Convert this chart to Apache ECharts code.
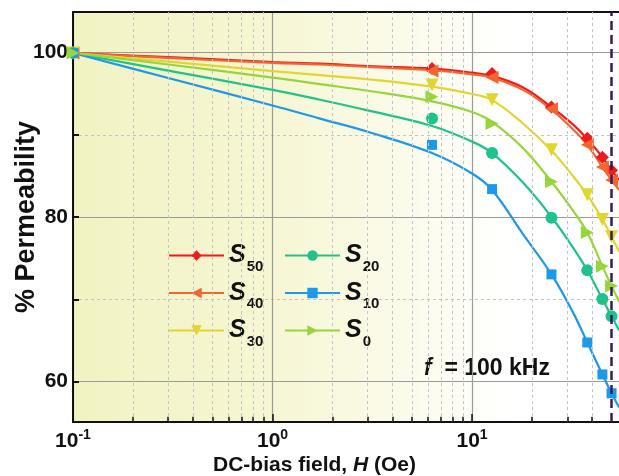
<!DOCTYPE html>
<html>
<head>
<meta charset="utf-8">
<script src="https://cdn.jsdelivr.net/npm/echarts@6/dist/echarts.min.js"></script>
<style>
  html, body { margin: 0; padding: 0; background: #fff; }
  #plot { width: 619px; height: 476px; }
</style>
</head>
<body>
<div id="plot"></div>
<script>
// DC-bias field values (Oe) where the measurements were taken
var hMeas = [0.1, 6.3, 12.6, 25, 37.8, 45, 50];
// points
var hFit = [0.1, 0.3, 1, 1.73, 3, 6.3, 10, 12.6, 18, 25, 32, 37.8, 45, 50, 54.5];

var names = ['S50', 'S40', 'S30', 'S20', 'S10', 'S0'];
var colors = ['#ee1c1c', '#f26430', '#e2d530', '#1fc38a', '#1e98e8', '#96d63c'];

// measured % permeability (markers)
var s50Meas = [100, 98.1, 97.5, 93.4, 89.6, 87.3, 85.7];
var s40Meas = [100, 97.8, 97.0, 93.2, 88.8, 86.1, 84.5];
var s30Meas = [100, 96.1, 94.3, 88.2, 82.7, 79.7, 77.6];
var s20Meas = [100, 92.0, 87.8, 79.9, 73.5, 70.0, 67.9];
var s10Meas = [100, 88.8, 83.4, 73.0, 64.7, 60.8, 58.5];
var s0Meas  = [100, 94.65, 91.4, 84.3, 78.1, 74.0, 71.6];

// fitted curves
var s50Fit = [100, 99.5, 98.9, 98.7, 98.4, 98.1, 97.6, 97.2, 95.8, 93.4, 91.3, 89.5, 87.3, 85.7, 84.5];
var s40Fit = [100, 99.4, 98.8, 98.6, 98.3, 97.9, 97.4, 97.0, 95.5, 93.1, 90.7, 88.8, 86.1, 84.5, 83.3];
var s30Fit = [100, 98.95, 97.8, 97.3, 96.8, 95.9, 95.0, 94.25, 91.4, 88.1, 85.0, 82.7, 79.7, 77.6, 75.8];
var s20Fit = [100, 97.85, 95.5, 94.3, 93.0, 91.1, 89.2, 87.8, 84.2, 80.0, 76.3, 73.5, 70.0, 67.9, 66.2];
var s10Fit = [100, 96.95, 93.6, 92.0, 90.4, 87.8, 85.3, 83.3, 77.9, 73.0, 68.4, 64.7, 60.8, 58.5, 56.8];
var s0Fit  = [100, 98.6, 97.0, 96.2, 95.4, 94.1, 92.8, 91.6, 88.4, 84.3, 80.8, 78.1, 74.0, 71.6, 69.7];

var measAll = [s50Meas, s40Meas, s30Meas, s20Meas, s10Meas, s0Meas];
var fitAll = [s50Fit, s40Fit, s30Fit, s20Fit, s10Fit, s0Fit];

var minorH = [0.2, 0.3, 0.4, 0.5, 0.6, 0.7, 0.8, 0.9, 2, 3, 4, 5, 6, 7, 8, 9, 20, 30, 40];
var fieldLimit = 50;

var symbols = [
    'diamond',
    'path://M0,5 L10,0 L10,10 Z',     // left triangle
    'path://M0,0 L10,0 L5,10 Z',      // down triangle
    'circle',
    'rect',
    'path://M0,0 L10,5 L0,10 Z'       // right triangle
];
var symSizes = [13, 13, 13, 12, 10, 13];

var FONT = 'Liberation Sans';

function pairs(xs, ys) {
    var out = [];
    for (var i = 0; i < xs.length; i++) out.push([xs[i], ys[i]]);
    return out;
}

var series = [];
for (var i = 0; i < names.length; i++) {
    series.push({
        name: names[i],
        type: 'line',
        data: pairs(hFit, fitAll[i]),
        smooth: 0.4,
        symbol: symbols[i],
        symbolSize: symSizes[i],
        showSymbol: false,
        lineStyle: { color: colors[i], width: 2.2 },
        itemStyle: { color: colors[i] },
        z: 3
    });
}
for (var i = 0; i < names.length; i++) {
    series.push({
        name: names[i],
        type: 'scatter',
        data: pairs(hMeas, measAll[i]),
        symbol: symbols[i],
        symbolSize: symSizes[i],
        itemStyle: { color: colors[i], opacity: 1 },
        z: 4
    });
}

// helper series for minor grid lines, minor ticks and the dashed limit line
var minorLines = [];
var minorTicks = [];
for (var k = 0; k < minorH.length; k++) {
    minorLines.push({ xAxis: minorH[k] });
    minorTicks.push([{ coord: [minorH[k], 55] }, { coord: [minorH[k], 55.65] }]);
}
series.push({
    name: 'grid',
    type: 'line',
    data: [],
    silent: true,
    markLine: {
        silent: true,
        symbol: 'none',
        label: { show: false },
        lineStyle: { color: '#c4c4c4', type: [3, 3], width: 1 },
        data: minorLines
    },
    z: 1
});
series.push({
    name: 'ticks',
    type: 'line',
    data: [],
    silent: true,
    markLine: {
        silent: true,
        symbol: 'none',
        label: { show: false },
        lineStyle: { color: '#111', type: 'solid', width: 1.5 },
        data: minorTicks
    },
    z: 5
});
series.push({
    name: 'limit',
    type: 'line',
    data: [],
    silent: true,
    markLine: {
        silent: true,
        symbol: 'none',
        label: { show: false },
        lineStyle: { color: '#3a1a5c', type: [9, 5], width: 2.5 },
        data: [{ xAxis: fieldLimit }]
    },
    z: 6
});

var legendText = {
    rich: {
        s: { fontFamily: FONT, fontSize: 25, fontWeight: 'bold', fontStyle: 'italic', color: '#111', verticalAlign: 'middle' },
        sub: { fontFamily: FONT, fontSize: 15, fontWeight: 'bold', color: '#111', verticalAlign: 'middle', padding: [22, 0, 0, 1] }
    }
};
function legendFmt(name) {
    return '{s|S}{sub|' + name.slice(1) + '}';
}

var myChart = echarts.init(document.getElementById('plot'));
var option = {
    animation: false,
    grid: [
        {
            left: 73, right: 0, top: 12, bottom: 54,
            show: true, borderWidth: 0,
            backgroundColor: {
                type: 'linear', x: 0, y: 0, x2: 1, y2: 0,
                colorStops: [
                    { offset: 0, color: '#f2f3c3' },
                    { offset: 0.35, color: '#f6f6d2' },
                    { offset: 0.62, color: '#fbfbec' },
                    { offset: 0.8, color: '#ffffff' },
                    { offset: 1, color: '#ffffff' }
                ]
            }
        },
        { left: 73, right: 0, top: 52.7, bottom: 94.3 }
    ],
    legend: [
        {
            data: ['S50', 'S40', 'S30'],
            orient: 'vertical', left: 168, top: 243, padding: 0,
            itemWidth: 55, itemHeight: 13, itemGap: 6.5,
            formatter: legendFmt, textStyle: legendText, selectedMode: false
        },
        {
            data: ['S20', 'S10', 'S0'],
            orient: 'vertical', left: 284, top: 243, padding: 0,
            itemWidth: 55, itemHeight: 13, itemGap: 6.5,
            formatter: legendFmt, textStyle: legendText, selectedMode: false
        }
    ],
    xAxis: [
        {
            type: 'log', logBase: 10, gridIndex: 0,
            min: 0.1, max: 54.5,
            axisLine: { lineStyle: { color: '#111', width: 2 } },
            axisTick: { inside: true, length: 8, lineStyle: { color: '#111', width: 1.5 } },
            axisLabel: {
                margin: 6,
                showMaxLabel: false,
                formatter: function (v) {
                    var e = Math.round(Math.log10(v));
                    if (Math.abs(Math.log10(v) - e) > 0.01) return '';
                    return '{b|10}{sup|' + e + '}';
                },
                rich: {
                    b: { fontFamily: FONT, fontSize: 21, fontWeight: 'bold', color: '#111', verticalAlign: 'bottom' },
                    sup: { fontFamily: FONT, fontSize: 14, fontWeight: 'bold', color: '#111', verticalAlign: 'top', padding: [0, 0, 10, 0] }
                }
            },
            splitLine: { show: true, lineStyle: { color: '#9a9a9a', width: 1.2 } }
        },
        {
            type: 'value', gridIndex: 0, position: 'top', min: 0, max: 1,
            axisLine: { show: true, onZero: false, lineStyle: { color: '#111', width: 2 } },
            axisTick: { show: false }, axisLabel: { show: false }, splitLine: { show: false }
        },
        { type: 'value', gridIndex: 1, show: false, min: 0, max: 1 }
    ],
    yAxis: [
        {
            type: 'value', gridIndex: 0, min: 55, max: 105, position: 'left',
            axisLine: { show: true, onZero: false, lineStyle: { color: '#111', width: 2 } },
            axisTick: { show: false }, axisLabel: { show: false }, splitLine: { show: false },
            name: '% Permeability', nameLocation: 'middle', nameGap: 33,
            nameTextStyle: { fontFamily: FONT, fontSize: 27, fontWeight: 'bold', color: '#111' }
        },
        {
            type: 'value', gridIndex: 1, min: 60, max: 100, interval: 10, position: 'left',
            axisLine: { show: false },
            axisTick: { show: true, inside: true, length: 6, lineStyle: { color: '#111', width: 2 } },
            axisLabel: { show: false },
            splitLine: { show: true, lineStyle: { color: '#c4c4c4', type: [3, 3], width: 1 } }
        },
        {
            type: 'value', gridIndex: 1, min: 60, max: 100, interval: 20, position: 'left',
            axisLine: { show: false },
            axisTick: { show: false },
            axisLabel: { margin: 5, fontFamily: FONT, fontSize: 21, fontWeight: 'bold', color: '#111' },
            splitLine: { show: true, lineStyle: { color: '#9a9a9a', width: 1.2 } }
        }
    ],
    graphic: [
        {
            type: 'text', left: 213, top: 455, silent: true,
            style: {
                text: '{n|DC-bias field, }{i|H}{n| (Oe)}',
                rich: {
                    n: { fontFamily: FONT, fontSize: 21, fontWeight: 'bold', fill: '#111', color: '#111' },
                    i: { fontFamily: FONT, fontSize: 21, fontWeight: 'bold', fontStyle: 'italic', fill: '#111', color: '#111' }
                }
            }
        },
        {
            type: 'text', left: 424, top: 357, silent: true,
            style: {
                text: '{i|f}{n|  = 100 kHz}',
                rich: {
                    n: { fontFamily: FONT, fontSize: 23, fontWeight: 'bold', fill: '#111', color: '#111' },
                    i: { fontFamily: FONT, fontSize: 23, fontWeight: 'bold', fontStyle: 'italic', fill: '#111', color: '#111' }
                }
            }
        }
    ],
    series: series
};
myChart.setOption(option);
</script>
</body>
</html>
